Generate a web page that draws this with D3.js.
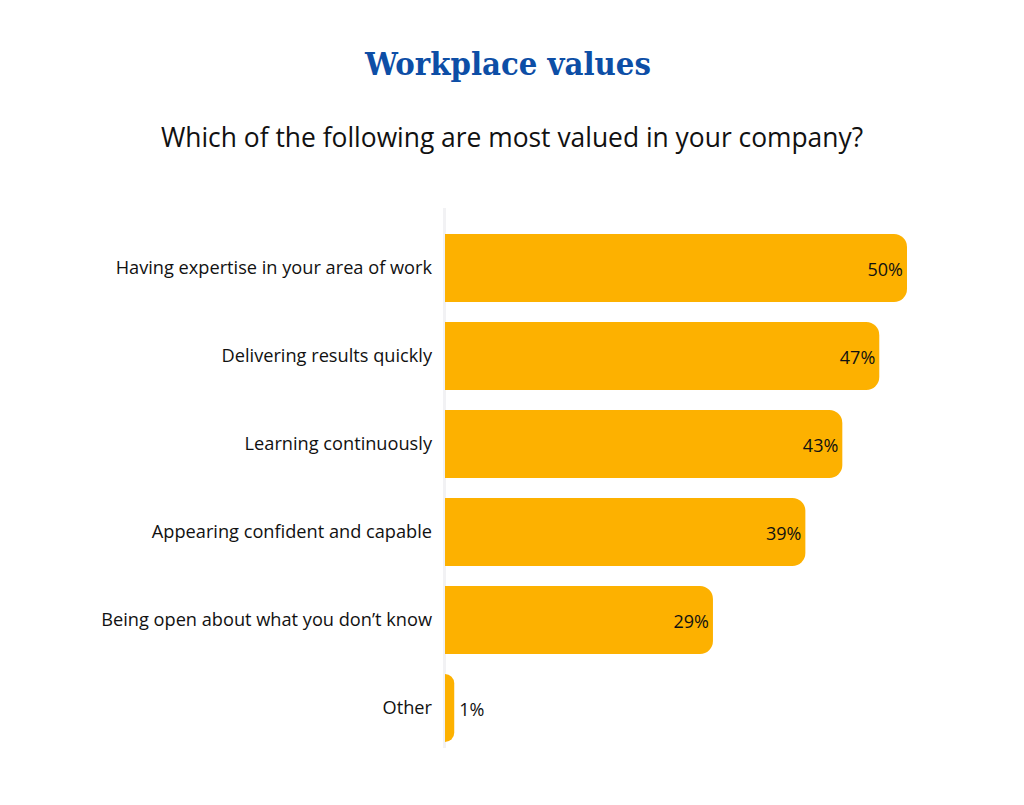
<!DOCTYPE html>
<html>
<head>
<meta charset="utf-8">
<script src="https://cdn.jsdelivr.net/npm/d3@7"></script>
<style>
  body { margin: 0; background: #fff; }
  svg { display: block; }
</style>
</head>
<body>
<svg id="chart" width="1024" height="805"></svg>
<script>
// chart data
const categories = [
  "Having expertise in your area of work",
  "Delivering results quickly",
  "Learning continuously",
  "Appearing confident and capable",
  "Being open about what you don\u2019t know",
  "Other"
];
const values = [50, 47, 43, 39, 29, 1];

const svg = d3.select("#chart");
const barLeft = 445, barTop = 234;
const barH = 68, step = 88;
const font = "'Open Sans', sans-serif";

const x = d3.scaleLinear().domain([0, 50]).range([0, 462]);
const y = d3.scaleBand()
  .domain(categories)
  .range([barTop, barTop + step * (categories.length - 1) + barH])
  .paddingInner((step - barH) / step)
  .paddingOuter(0);

svg.append("text")
  .attr("x", 508).attr("y", 75)
  .attr("text-anchor", "middle")
  .style("font-family", "'DejaVu Serif Condensed', 'DejaVu Serif', serif")
  .style("font-size", "32.5px")
  .style("font-weight", "600")
  .style("fill", "#0d4ea6")
  .text("Workplace values");

svg.append("text")
  .attr("x", 512).attr("y", 147)
  .attr("text-anchor", "middle")
  .style("font-family", font)
  .style("font-size", "26.4px")
  .style("fill", "#111")
  .text("Which of the following are most valued in your company?");

// faint baseline
svg.append("rect")
  .attr("x", barLeft - 2).attr("y", 208)
  .attr("width", 3).attr("height", 540)
  .attr("fill", "#f2f2f4");

// bar path: square on the left, rounded on the right
function barPath(w, h, r) {
  r = Math.min(r, w, h / 2);
  return `M0,0H${w - r}A${r},${r} 0 0 1 ${w},${r}V${h - r}A${r},${r} 0 0 1 ${w - r},${h}H0Z`;
}

const rows = svg.selectAll(".row")
  .data(categories)
  .enter().append("g")
  .attr("class", "row")
  .attr("transform", d => `translate(${barLeft},${y(d)})`);

rows.append("path")
  .attr("d", (d, i) => barPath(x(values[i]), y.bandwidth(), 13))
  .attr("fill", "#fdb100");

rows.append("text")
  .attr("x", -13)
  .attr("y", y.bandwidth() / 2)
  .attr("dy", "0.35em")
  .attr("text-anchor", "end")
  .style("font-family", font)
  .style("font-size", "18.2px")
  .style("fill", "#111")
  .text(d => d);

rows.append("text")
  .attr("x", (d, i) => values[i] < 10 ? x(values[i]) + 5 : x(values[i]) - 4)
  .attr("y", y.bandwidth() / 2 + 2)
  .attr("dy", "0.35em")
  .attr("text-anchor", (d, i) => values[i] < 10 ? "start" : "end")
  .style("font-family", font)
  .style("font-size", "18px")
  .style("fill", "#111")
  .text((d, i) => values[i] + "%");
</script>
</body>
</html>
